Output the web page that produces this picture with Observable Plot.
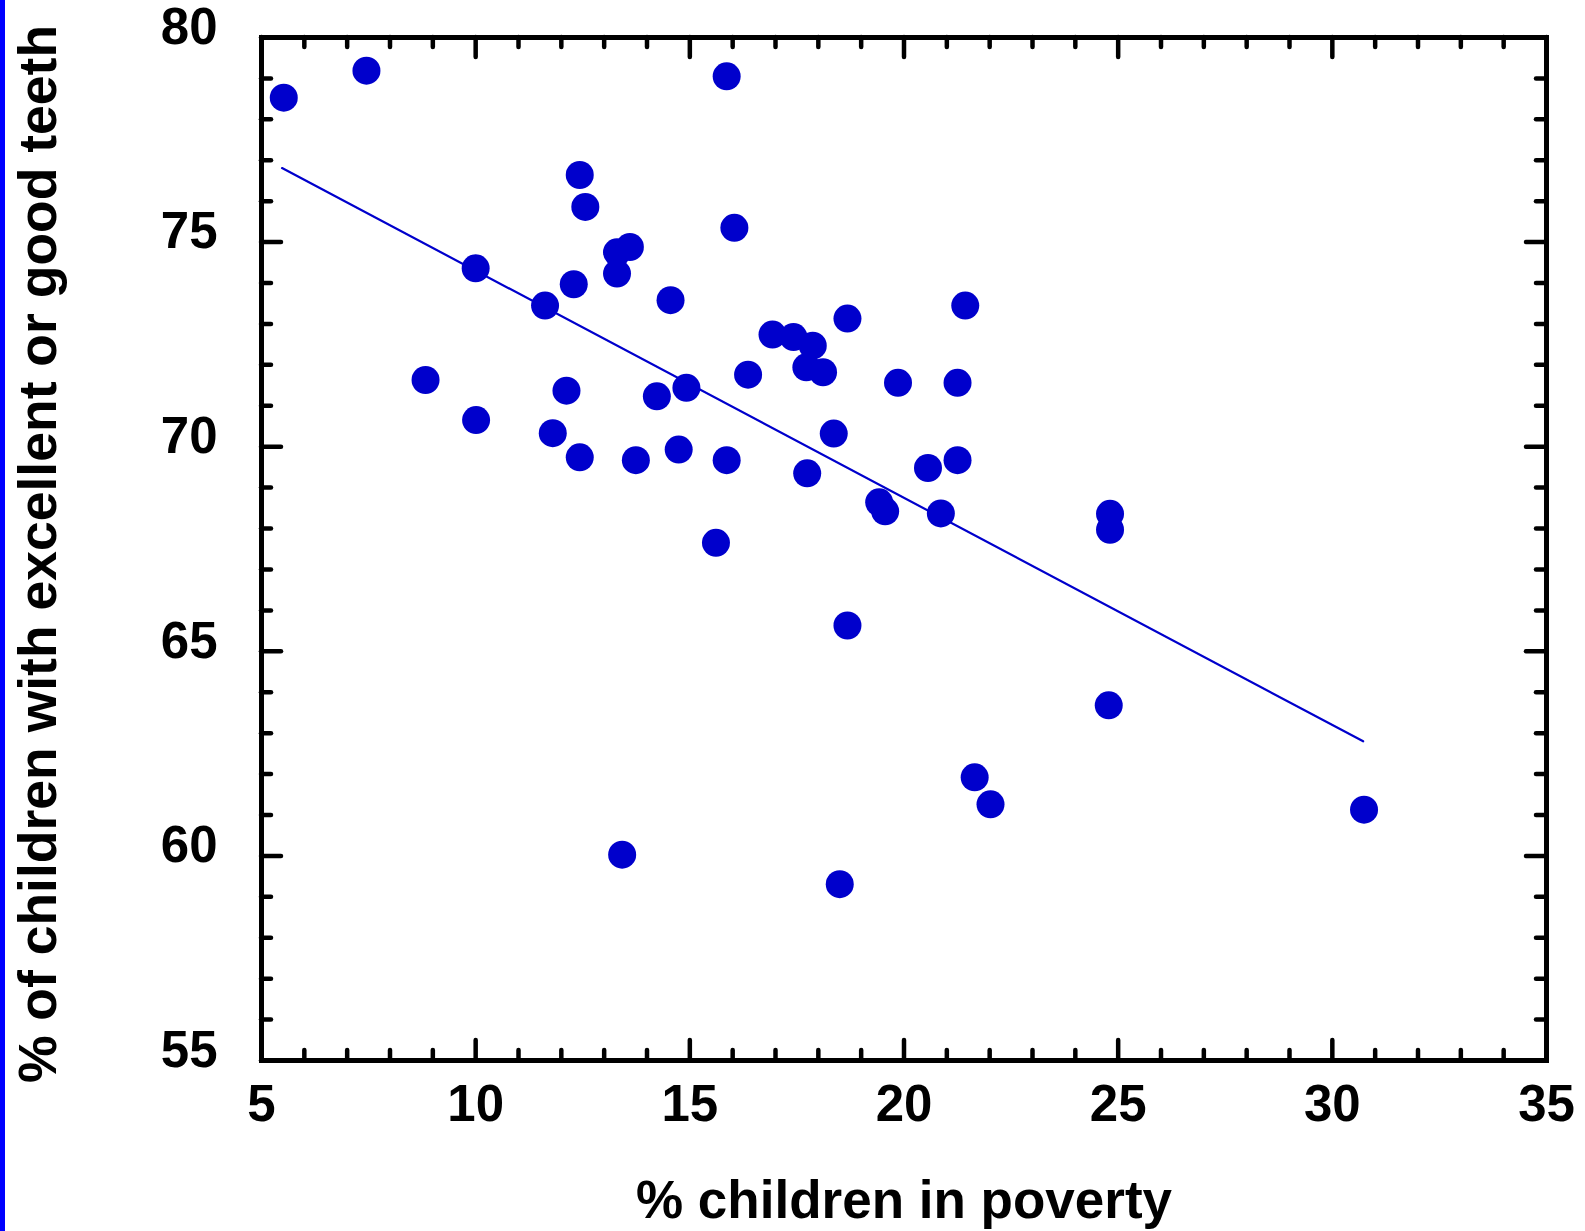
<!DOCTYPE html>
<html>
<head>
<meta charset="utf-8">
<script src="https://cdn.jsdelivr.net/npm/d3@7"></script>
<script src="https://cdn.jsdelivr.net/npm/@observablehq/plot@0.6"></script>
<style>
  html, body { margin: 0; padding: 0; background: #fff; }
  #chart { position: relative; width: 1585px; height: 1231px; overflow: hidden; }
  #chart svg { display: block; }
  #edge { position: absolute; left: 0; top: 0; width: 5px; height: 100%; background: #0000ff; }
</style>
</head>
<body>
<div id="chart"><div id="edge"></div></div>
<script>
// Child poverty rate vs. share of children with excellent or good teeth, by state
const poverty = [
  5.52, 7.45, 15.86, 12.43, 12.56, 16.04, 10.00, 13.30, 13.60, 13.30,
  12.29, 11.62, 14.55, 16.93, 17.42, 17.87, 18.68, 21.43, 17.72, 18.11,
  16.36, 8.83, 12.12, 14.23, 14.92, 19.86, 21.25, 10.01, 11.80, 12.43,
  13.74, 14.74, 15.86, 18.36, 17.74, 20.56, 21.25, 19.42, 19.56, 20.86,
  24.81, 24.81, 15.61, 18.68, 24.78, 21.65, 22.02, 30.74, 13.42, 18.50
];
const goodTeeth = [
  78.53, 79.19, 79.05, 76.64, 75.86, 75.35, 74.36, 74.75, 74.88, 74.23,
  73.97, 73.45, 73.58, 72.74, 72.68, 72.47, 73.13, 73.45, 71.94, 71.82,
  71.76, 71.63, 71.37, 71.23, 71.44, 71.56, 71.56, 70.65, 70.33, 69.74,
  69.67, 69.93, 69.67, 70.32, 69.35, 69.48, 69.67, 68.64, 68.42, 68.37,
  68.36, 67.97, 67.65, 65.63, 63.68, 61.92, 61.26, 61.13, 60.03, 59.31
];

// Least-squares fit line, endpoints
const fitX = [5.48, 30.72];
const fitY = [76.81, 62.80];

// Axis ticks and labels
const xTicks = [5, 10, 15, 20, 25, 30, 35];
const yTicks = [55, 60, 65, 70, 75, 80];
const xTitle = "% children in poverty";
const yTitle = "% of children with excellent or good teeth";

const points = poverty.map((x, i) => ({x, y: goodTeeth[i]}));
const fit = fitX.map((x, i) => ({x, y: fitY[i]}));
const xMinor = d3.range(5, 36).filter(v => v % 5 !== 0);
const yMinor = d3.range(55, 81).filter(v => v % 5 !== 0);

const W = 1585, H = 1231;
const mL = 261, mR = 39, mT = 37, mB = 171;
const innerW = W - mL - mR, innerH = H - mT - mB;
const MAJOR = 20, MINOR = 10;
const blue = "#0000cc";
const font = "'Liberation Sans', Arial, Helvetica, sans-serif";
const tickStyle = {stroke: "black", strokeWidth: 4.5, strokeLinecap: "round"};

const chart = Plot.plot({
  width: W,
  height: H,
  marginLeft: mL,
  marginRight: mR,
  marginTop: mT,
  marginBottom: mB,
  style: {fontFamily: font, background: "white"},
  x: {domain: [5, 35], axis: null},
  y: {domain: [55, 80], axis: null},
  marks: [
    // regression line
    Plot.line(fit, {x: "x", y: "y", stroke: blue, strokeWidth: 2.2}),
    // states
    Plot.dot(points, {x: "x", y: "y", r: 14, fill: blue, stroke: "none"}),
    // inward ticks, bottom / top
    Plot.tickX(xTicks, {x: d => d, insetTop: innerH - MAJOR, ...tickStyle}),
    Plot.tickX(xMinor, {x: d => d, insetTop: innerH - MINOR, ...tickStyle}),
    Plot.tickX(xTicks, {x: d => d, insetBottom: innerH - MAJOR, ...tickStyle}),
    Plot.tickX(xMinor, {x: d => d, insetBottom: innerH - MINOR, ...tickStyle}),
    // inward ticks, left / right
    Plot.tickY(yTicks, {y: d => d, insetRight: innerW - MAJOR, ...tickStyle}),
    Plot.tickY(yMinor, {y: d => d, insetRight: innerW - MINOR, ...tickStyle}),
    Plot.tickY(yTicks, {y: d => d, insetLeft: innerW - MAJOR, ...tickStyle}),
    Plot.tickY(yMinor, {y: d => d, insetLeft: innerW - MINOR, ...tickStyle}),
    Plot.frame({stroke: "black", strokeWidth: 5}),
    // tick labels
    Plot.text(xTicks, {
      x: d => d, text: d => String(d), frameAnchor: "bottom",
      lineAnchor: "middle", dy: 44, fontSize: 51, fontWeight: "bold", fill: "black"
    }),
    Plot.text(yTicks, {
      y: d => d, text: d => String(d), frameAnchor: "left",
      textAnchor: "end", lineAnchor: "middle", dx: -44, dy: -10,
      fontSize: 51, fontWeight: "bold", fill: "black"
    }),
    // axis titles
    Plot.text([xTitle], {
      text: d => d, frameAnchor: "bottom", textAnchor: "middle", lineAnchor: "middle",
      dy: 141, fontSize: 53, fontWeight: "bold", fill: "black"
    }),
    Plot.text([yTitle], {
      text: d => d, frameAnchor: "left", textAnchor: "middle", lineAnchor: "middle",
      rotate: -90, dx: -223, dy: 5, fontSize: 53.5, fontWeight: "bold", fill: "black"
    })
  ]
});

document.getElementById("chart").prepend(chart);
</script>
</body>
</html>
